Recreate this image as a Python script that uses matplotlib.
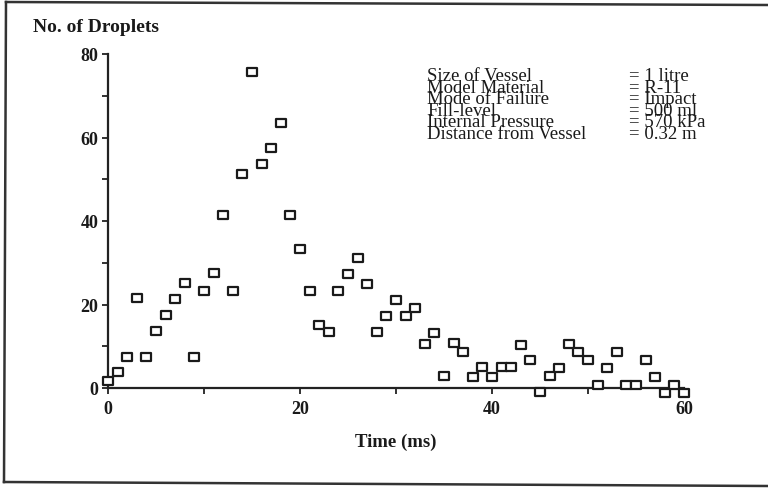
import matplotlib
matplotlib.use("Agg")
import matplotlib.pyplot as plt
from matplotlib.path import Path
from matplotlib.lines import Line2D

# Droplet counts recorded at 1 ms intervals
time_ms = list(range(0, 61))
droplets = [
    1.7, 3.8, 7.4, 21.5, 7.4, 13.6, 17.5, 21.3, 25.1, 7.4,
    23.2, 27.5, 41.4, 23.2, 51.2, 75.6, 53.6, 57.4, 63.4, 41.4,
    33.2, 23.2, 15.2, 13.3, 23.2, 27.3, 31.1, 24.9, 13.3, 17.2,
    21.0, 17.2, 19.1, 10.6, 13.2, 2.9, 10.8, 8.7, 2.7, 5.0,
    2.7, 5.0, 5.0, 10.4, 6.7, -1.0, 2.9, 4.8, 10.5, 8.6,
    6.7, 0.7, 4.8, 8.6, 0.6, 0.6, 6.6, 2.7, -1.3, 0.7, -1.3,
]

x_ticks = [0, 20, 40, 60]
y_ticks = [0, 20, 40, 60, 80]

info_labels = ["Size of Vessel", "Model Material", "Mode of Failure",
               "Fill-level", "Internal Pressure", "Distance from Vessel"]
info_values = ["= 1 litre", "= R-11", "= Impact",
               "= 500 ml", "= 570 kPa", "= 0.32 m"]

serif = ["Liberation Serif", "DejaVu Serif"]
ink = "#1a1a1a"

fig = plt.figure(figsize=(7.68, 4.89), dpi=100)
ax = fig.add_axes([108 / 768, 100 / 489, 576 / 768, 334 / 489])

# slightly wide open square marker
box = Path([(-1, -0.8), (1, -0.8), (1, 0.8), (-1, 0.8), (-1, -0.8)],
           [Path.MOVETO, Path.LINETO, Path.LINETO, Path.LINETO, Path.CLOSEPOLY])
ax.plot(time_ms, droplets, linestyle="none", marker=box, markersize=7.8,
        markerfacecolor="white", markeredgecolor=ink,
        markeredgewidth=1.6, clip_on=False, zorder=3)

ax.set_xlim(0, 60)
ax.set_ylim(0, 80)
for side in ("top", "right"):
    ax.spines[side].set_visible(False)
for side in ("left", "bottom"):
    ax.spines[side].set_linewidth(1.6)
    ax.spines[side].set_color("#222222")

ax.set_xticks(x_ticks)
ax.set_xticks(range(0, 61, 10), minor=True)
ax.set_yticks(y_ticks)
ax.set_yticks(range(0, 81, 10), minor=True)
ax.tick_params(axis="both", which="both", direction="out", length=4,
               width=1.3, color="#222222")
ax.tick_params(axis="x", which="major", pad=5)
ax.tick_params(axis="y", which="major", pad=3)
for lbl in ax.get_xticklabels() + ax.get_yticklabels():
    lbl.set_family(serif)
    lbl.set_fontweight("bold")
    lbl.set_fontsize(13)
    lbl.set_color(ink)

ax.set_xlabel("Time (ms)", family=serif, fontweight="bold", fontsize=13.5,
              labelpad=11, color=ink)
fig.text(33 / 768, 1 - 28 / 489, "No. of Droplets", family=serif,
         fontweight="bold", fontsize=14, va="center", ha="left", color=ink)

# experiment conditions block, tightly leaded
block = dict(family=serif, fontsize=13.5, va="top", ha="left", color=ink,
             linespacing=0.585)
fig.text(427 / 768, 1 - 68 / 489, "\n".join(info_labels), **block)
fig.text(629 / 768, 1 - 68 / 489, "\n".join(info_values), **block)

# outer frame
frame = dict(color="#333333", linewidth=1.8, transform=fig.transFigure)
fig.add_artist(Line2D([6 / 768, 768 / 768], [1 - 3 / 489, 1 - 6 / 489], **frame))
fig.add_artist(Line2D([6 / 768, 4 / 768], [1 - 3 / 489, 1 - 483 / 489], **frame))
fig.add_artist(Line2D([4 / 768, 768 / 768], [1 - 483 / 489, 1 - 487 / 489], **frame))

fig.savefig("out.png", dpi=100, facecolor="white")
